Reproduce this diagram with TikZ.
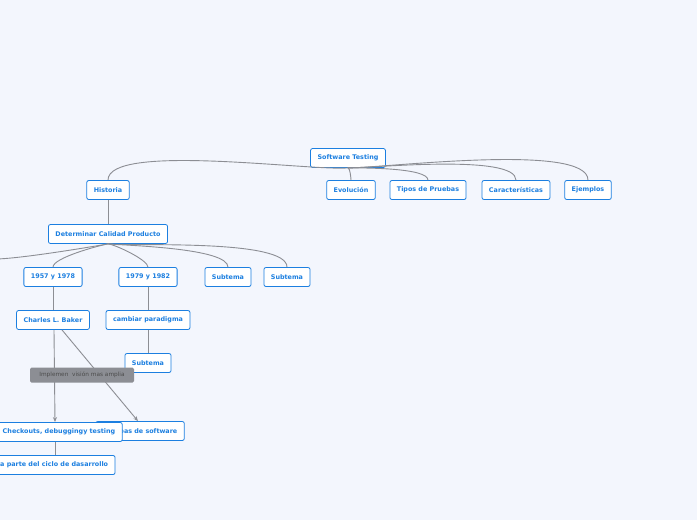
\documentclass[tikz,border=0pt]{standalone}
\usepackage{fontspec}
\setmainfont{DejaVu Sans}
\usetikzlibrary{positioning, arrows.meta}
\definecolor{bgblue}{HTML}{F3F6FD}
\definecolor{topicblue}{HTML}{1C7FE0}
\definecolor{linkgray}{HTML}{8C8E94}
\tikzset{
  topic/.style={draw=topicblue, fill=white, rounded corners=2pt, line width=0.8pt,
    text=topicblue, font=\bfseries\fontsize{6.4}{7}\selectfont, minimum height=19pt, inner xsep=7pt},
  branch/.style={draw=linkgray, line width=0.9pt},
  rel/.style={draw=linkgray, line width=0.9pt, -{Stealth[length=5pt,width=4pt]}},
  tag/.style={fill=linkgray, rounded corners=1.5pt, text=black!70, font=\fontsize{5.8}{6}\selectfont,
    minimum width=104pt, minimum height=15pt}
}
\begin{document}
\begin{tikzpicture}[x=1pt, y=-1pt]
    \fill[bgblue] (0,0) rectangle (697,520);
    \useasboundingbox (0,0) rectangle (697,520);

    \node[topic] (root) at (348,158) {Software Testing};
    \node[topic] (historia) at (108,190) {Historia};
    \node[topic] (evolucion) at (351,190) {Evolución};
    \node[topic] (tipos) at (428,190) {Tipos de Pruebas};
    \node[topic] (carac) at (516,190) {Características};
    \node[topic] (ejemplos) at (588,190) {Ejemplos};

    \node[topic] (calidad) at (108,234) {Determinar Calidad Producto};
    \coordinate (offleft) at (-5,259);
    \node[topic] (periodoa) at (53,277) {1957 y 1978};
    \node[topic] (periodob) at (148,277) {1979 y 1982};
    \node[topic] (subtemaa) at (228,277) {Subtema};
    \node[topic] (subtemab) at (287,277) {Subtema};

    \node[topic] (baker) at (53,320) {Charles L. Baker};
    \node[topic] (paradigma) at (148,320) {cambiar paradigma};
    \node[topic] (subtemac) at (148,363) {Subtema};
    \node[topic] (subtemad) at (-28,363) {Subtema};

    \node[topic] (pruebas) at (140,431) {Pruebas de software};
    \node[topic] (checkouts) at (59,432) {Checkouts, debuggingy testing};
    \node[topic] (ciclo) at (45,465) {Forma parte del ciclo de dasarrollo};

    % ramas principales
    \foreach \n in {historia} \draw[branch] (root.south) to[out=185,in=90,looseness=0.4] (\n.north);
    \foreach \n in {evolucion,tipos,carac,ejemplos} \draw[branch] (root.south) to[out=0,in=90,looseness=0.4] (\n.north);
    \draw[branch] (historia) -- (calidad);
    \draw[branch] (calidad.south) to[out=190,in=0,looseness=0.5] (offleft);
    \draw[branch] (calidad.south) to[out=190,in=90,looseness=0.4] (periodoa.north);
    \foreach \n in {periodob,subtemaa,subtemab} \draw[branch] (calidad.south) to[out=-5,in=90,looseness=0.4] (\n.north);
    \draw[branch] (periodoa) -- (baker);
    \draw[branch] (periodob) -- (paradigma);
    \draw[branch] (paradigma) -- (subtemac);

    % relaciones
    \draw[rel] ([xshift=1pt]baker.south) -- ([xshift=-4pt]checkouts.north);
    \draw[rel] ([xshift=9pt]baker.south) -- ([xshift=-2pt]pruebas.north);
    \node[tag] (vision) at (82,375) {Implemen\ \ visión mas amplia};
    \draw[branch] ([xshift=-4pt]checkouts.south) -- ([xshift=10pt]ciclo.north);
\end{tikzpicture}
\end{document}
